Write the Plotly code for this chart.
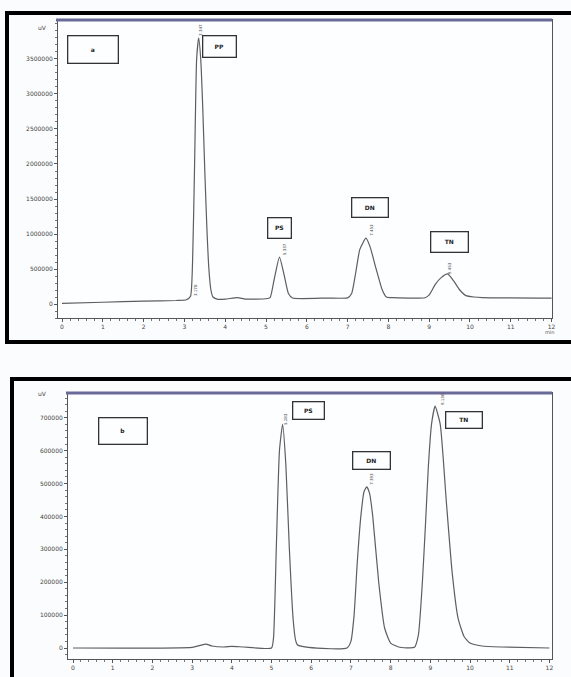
import plotly.graph_objects as go

# ---------------- data ----------------
# Panel a: retention time (min) and detector signal (uV)
time_a = [0.0, 1.0, 2.0, 2.8, 3.05, 3.15, 3.2, 3.25, 3.3, 3.35, 3.4, 3.45, 3.5, 3.55,
          3.6, 3.65, 3.7, 3.8, 4.0, 4.3, 4.5, 5.0, 5.1, 5.2, 5.33, 5.45, 5.55, 5.65,
          6.5, 7.0, 7.1, 7.2, 7.3, 7.45, 7.55, 7.7, 7.85, 7.95, 8.1, 8.9, 9.0, 9.15,
          9.3, 9.45, 9.6, 9.75, 9.9, 10.1, 10.3, 12.0]
signal_a = [10000, 25000, 40000, 50000, 60000, 110000, 600000, 2000000, 3500000, 3800000,
            3500000, 2800000, 1900000, 1100000, 500000, 200000, 100000, 70000, 70000, 90000,
            70000, 75000, 90000, 350000, 670000, 400000, 150000, 85000, 85000, 88000,
            150000, 450000, 780000, 940000, 820000, 500000, 200000, 100000, 90000, 90000,
            130000, 280000, 380000, 430000, 330000, 200000, 120000, 100000, 92000, 85000]

# Panel b
time_b = [0.0, 3.0, 3.2, 3.35, 3.5, 3.8, 4.0, 4.3, 5.0, 5.05, 5.12, 5.2, 5.28, 5.36, 5.45,
          5.55, 5.65, 6.9, 7.0, 7.08, 7.16, 7.25, 7.33, 7.4, 7.47, 7.55, 7.7, 7.85, 8.0,
          8.2, 8.6, 8.7, 8.8, 8.88, 8.95, 9.03, 9.12, 9.25, 9.4, 9.55, 9.7, 9.85, 10.0,
          10.3, 10.8, 12.0]
signal_b = [0, 2000, 8000, 12000, 6000, 3000, 5000, 3000, 0, 30000, 300000, 600000, 680000,
            560000, 300000, 80000, 10000, 0, 20000, 100000, 260000, 400000, 475000, 490000,
            470000, 400000, 200000, 60000, 15000, 3000, 2000, 40000, 200000, 380000, 550000,
            680000, 735000, 680000, 450000, 230000, 90000, 35000, 15000, 6000, 3000, 0]

# Peak names and retention-time labels
peaks_a = ["PP", "PS", "DN", "TN"]
rt_a = ["3.347", "5.337", "7.453", "9.453"]
peaks_b = ["PS", "DN", "TN"]
rt_b = ["5.283", "7.393", "9.130"]

xticks = list(range(0, 13))
yticks_a = [0, 500000, 1000000, 1500000, 2000000, 2500000, 3000000, 3500000]
yticks_b = [0, 100000, 200000, 300000, 400000, 500000, 600000, 700000]

# ---------------- figure ----------------
W, H = 571, 677
def px(x):
    return x / W
def py(y):
    return 1 - y / H

line_col = "#5e5e5e"
tick_font = dict(family="DejaVu Sans", size=6, color="#444444")

fig = go.Figure()
fig.add_trace(go.Scatter(x=time_a, y=signal_a, mode="lines", xaxis="x", yaxis="y",
                         line=dict(color=line_col, width=1.2, shape="spline", smoothing=0.5),
                         showlegend=False, hoverinfo="skip"))
fig.add_trace(go.Scatter(x=time_b, y=signal_b, mode="lines", xaxis="x2", yaxis="y2",
                         line=dict(color=line_col, width=1.2, shape="spline", smoothing=0.5),
                         showlegend=False, hoverinfo="skip"))

axis_common = dict(showgrid=False, zeroline=False, showline=True, linecolor="#555555",
                   linewidth=1, ticks="outside", ticklen=3, tickcolor="#555555",
                   tickfont=tick_font, mirror=True, automargin=False)

fig.update_layout(
    width=W, height=H,
    margin=dict(l=0, r=0, t=0, b=0),
    paper_bgcolor="#fbfcfe", plot_bgcolor="#fdfeff",
    xaxis=dict(domain=[px(58), px(552)], range=[-0.098, 12.01], anchor="y",
               tickvals=xticks, minor=dict(ticks="outside", dtick=0.2, ticklen=2,
                                           tickcolor="#777777"), **axis_common),
    yaxis=dict(domain=[py(318), py(20)], range=[-200000, 4057000], anchor="x",
               tickvals=yticks_a, ticktext=[str(v) for v in yticks_a],
               minor=dict(ticks="outside", dtick=100000, ticklen=2, tickcolor="#777777"),
               **axis_common),
    xaxis2=dict(domain=[px(68), px(552)], range=[-0.126, 12.065], anchor="y2",
                tickvals=xticks, minor=dict(ticks="outside", dtick=0.2, ticklen=2,
                                            tickcolor="#777777"), **axis_common),
    yaxis2=dict(domain=[py(659), py(393)], range=[-33440, 775200], anchor="x2",
                tickvals=yticks_b, ticktext=[str(v) for v in yticks_b],
                minor=dict(ticks="outside", dtick=20000, ticklen=2, tickcolor="#777777"),
                **axis_common),
)

shapes = []
# black frames
shapes.append(dict(type="rect", xref="paper", yref="paper", x0=px(7), x1=1.05,
                   y0=py(342), y1=py(13), line=dict(color="black", width=4)))
shapes.append(dict(type="rect", xref="paper", yref="paper", x0=px(12), x1=1.05,
                   y0=-0.05, y1=py(379), line=dict(color="black", width=4)))
# purple top borders of the plots
shapes.append(dict(type="line", xref="paper", yref="paper", x0=px(56), x1=px(552),
                   y0=py(20), y1=py(20), line=dict(color="#6a6a98", width=3)))
shapes.append(dict(type="line", xref="paper", yref="paper", x0=px(66), x1=px(552),
                   y0=py(393), y1=py(393), line=dict(color="#6a6a98", width=3)))
fig.update_layout(shapes=shapes)

ann = []
box = dict(showarrow=False, bordercolor="#333333", borderwidth=1.3, bgcolor="rgba(0,0,0,0)",
           font=dict(family="DejaVu Sans", size=6, color="#222222"),
           xanchor="center", yanchor="middle")
# panel a boxes
ann.append(dict(x=0.75, y=3628600, xref="x", yref="y", text="<b>a</b>", width=47, height=24, **box))
box_pos_a = [(3.87, 3671500, 30, 18), (5.34, 1085700, 20, 17), (7.54, 1371400, 33, 16),
             (9.49, 878600, 34, 17)]
for name, (bx, by, bw, bh) in zip(peaks_a, box_pos_a):
    ann.append(dict(x=bx, y=by, xref="x", yref="y", text="<b>%s</b>" % name, width=bw, height=bh, **box))
rt_pos_a = [(3.38, 3914000), (5.47, 785700), (7.57, 1057000), (9.49, 514000)]
for t, (rx, ry) in zip(rt_a, rt_pos_a):
    ann.append(dict(x=rx, y=ry, xref="x", yref="y", text=t, textangle=-90, showarrow=False,
                    font=dict(family="DejaVu Sans", size=4, color="#444444")))
ann.append(dict(x=3.26, y=200000, xref="x", yref="y", text="3.178", textangle=-90, showarrow=False,
                font=dict(family="DejaVu Sans", size=4, color="#444444")))
# panel b boxes
ann.append(dict(x=1.27, y=661200, xref="x2", yref="y2", text="<b>b</b>", width=45, height=23, **box))
box_pos_b = [(5.92, 723500, 28, 14), (7.51, 571500, 34, 14), (9.86, 693100, 33, 13)]
for name, (bx, by, bw, bh) in zip(peaks_b, box_pos_b):
    ann.append(dict(x=bx, y=by, xref="x2", yref="y2", text="<b>%s</b>" % name, width=bw, height=bh, **box))
rt_pos_b = [(5.34, 696000), (7.53, 514000), (9.32, 757000)]
for t, (rx, ry) in zip(rt_b, rt_pos_b):
    ann.append(dict(x=rx, y=ry, xref="x2", yref="y2", text=t, textangle=-90, showarrow=False,
                    font=dict(family="DejaVu Sans", size=4, color="#444444")))
# unit labels
ann.append(dict(x=px(36), y=py(22), xref="paper", yref="paper", text="uV", showarrow=False,
                font=tick_font))
ann.append(dict(x=px(36), y=py(393), xref="paper", yref="paper", text="uV", showarrow=False,
                font=tick_font))
ann.append(dict(x=px(556), y=py(332), xref="paper", yref="paper", text="min", showarrow=False,
                font=dict(family="DejaVu Sans", size=5, color="#555555")))
fig.update_layout(annotations=ann)

fig.write_html("out.html", config={"displayModeBar": False},
               post_script="document.body.style.margin='0';document.body.style.padding='0';")
